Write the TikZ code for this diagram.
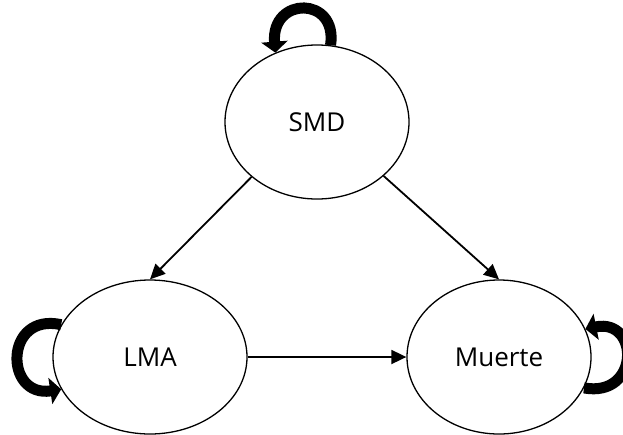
\documentclass[tikz,border=0pt]{standalone}
\usepackage{fontspec}
\setmainfont{Open Sans}
\usetikzlibrary{shapes.geometric,arrows.meta}
\begin{document}
\begin{tikzpicture}[x=1pt,y=-1pt,
  state/.style={ellipse,draw=black,line width=1.3pt,inner sep=0pt,
    minimum width=184pt,minimum height=154pt,font=\fontsize{26}{26}\selectfont},
  arr/.style={line width=1.8pt,-{Triangle[width=14pt,length=15pt]}},
  selfloop/.style={line width=11pt,-{Triangle[width=26pt,length=11pt]}}]
\useasboundingbox (0,0) rectangle (623,434);
\node[state] (smd) at (317,122) {SMD};
\node[state,minimum width=194pt] (lma) at (150,357) {LMA};
\node[state] (muerte) at (499,357) {Muerte};
\draw[arr] (smd.220) -- (lma.north);
\draw[arr] (smd.-39) -- (muerte.north);
\draw[arr] (lma.east) -- (muerte.west);
\draw[selfloop] (smd.80) .. controls (338,-4) and (271,-4) .. (smd.121);
\draw[selfloop] (lma.160) .. controls (4,312) and (4,398) .. (lma.200);
\draw[selfloop] (muerte.-20) .. controls (640,398) and (640,318) .. (muerte.18);
\end{tikzpicture}
\end{document}
